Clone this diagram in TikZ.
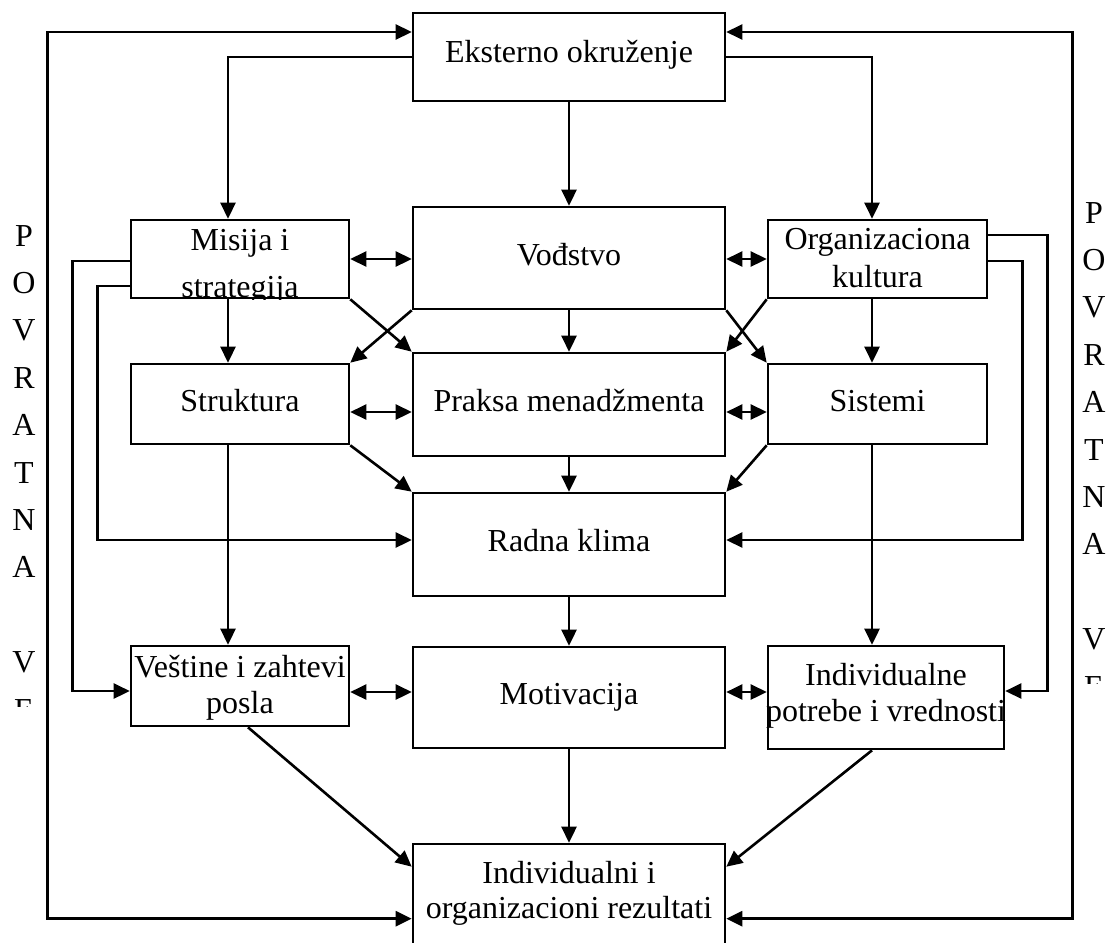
\documentclass[tikz,border=0pt]{standalone}
\usepackage{fontspec}
\setmainfont{Liberation Serif}
\usetikzlibrary{arrows.meta,calc}

\tikzset{
  box/.style={draw, line width=2.6pt, rectangle, inner sep=0pt, fill=white},
  txt/.style={anchor=base, inner sep=0pt, align=center},
  tip/.tip={Triangle[length=16pt,width=15pt]},
  link/.style={line width=2.6pt, -tip},
  duo/.style={line width=2.6pt, tip-tip},
  wire/.style={line width=2.6pt}
}

\begin{document}
\begin{tikzpicture}[x=1pt, y=-1pt, font=\fontsize{32}{38}\selectfont]
\useasboundingbox (0,0) rectangle (1110,942);
\fill[white] (0,0) rectangle (1110,942);
\clip (0,0) rectangle (1110,942);

% boxes
\node[box, minimum width=312pt, minimum height=88pt]  (eks) at (569,57)    {};
\node[box, minimum width=312pt, minimum height=102pt] (vod) at (569,258)   {};
\node[box, minimum width=218pt, minimum height=78pt]  (mis) at (240,259)   {};
\node[box, minimum width=219pt, minimum height=78pt]  (org) at (877.5,259) {};
\node[box, minimum width=218pt, minimum height=80pt]  (str) at (240,404)   {};
\node[box, minimum width=312pt, minimum height=103pt] (pra) at (569,404.5) {};
\node[box, minimum width=219pt, minimum height=80pt]  (sis) at (877.5,404) {};
\node[box, minimum width=312pt, minimum height=103pt] (rad) at (569,544.5) {};
\node[box, minimum width=218pt, minimum height=80pt]  (ves) at (240,686)   {};
\node[box, minimum width=312pt, minimum height=101pt] (mot) at (569,697.5) {};
\node[box, minimum width=236pt, minimum height=103pt] (ind) at (886,697.5) {};
\node[box, minimum width=312pt, minimum height=150pt] (rez) at (569,919)   {};

% box texts
\node[txt] (teks) at (569,63)  {Eksterno okruženje};
\node[txt] (tvod) at (569,265) {Vođstvo};
\begin{scope}
  \clip (mis.north west) rectangle (mis.south east);
  \node[txt] (tmis1) at (240,250) {Misija i};
  \node[txt] (tmis2) at (240,297) {strategija};
\end{scope}
\node[txt] (torg1) at (877.5,249) {Organizaciona};
\node[txt] (torg2) at (877.5,287) {kultura};
\node[txt] (tstr) at (240,411)   {Struktura};
\node[txt] (tpra) at (569,411)   {Praksa menadžmenta};
\node[txt] (tsis) at (877.5,411) {Sistemi};
\node[txt] (trad) at (569,551)   {Radna klima};
\node[txt] (tves1) at (240,677)  {Veštine i zahtevi};
\node[txt] (tves2) at (240,713)  {posla};
\node[txt] (tmot) at (569,704)   {Motivacija};
\node[txt] (tind1) at (886,685)  {Individualne};
\node[txt] (tind2) at (886,721)  {potrebe i vrednosti};
\node[txt] (trez1) at (569,883)  {Individualni i};
\node[txt] (trez2) at (569,918)  {organizacioni rezultati};

% vertical captions, cut off at the lower end
\begin{scope}
  \clip (0,0) rectangle (45,706);
  \foreach \k/\c in {0/P,1/O,2/V,3/R,4/A,5/T,6/N,7/A,9/V,10/E}
    \node[txt] (lcap\k) at (24,{246+47.4*\k}) {\c};
\end{scope}
\begin{scope}
  \clip (1076,0) rectangle (1110,683);
  \foreach \k/\c in {0/P,1/O,2/V,3/R,4/A,5/T,6/N,7/A,9/V,10/E}
    \node[txt] (rcap\k) at (1094,{223+47.4*\k}) {\c};
\end{scope}

% main flow
\draw[link] (eks.south) -- (vod.north);
\draw[link] (eks.west) -| ([xshift=-12pt]mis.north);
\draw[link] (eks.east) -| ([xshift=-5.5pt]org.north);
\draw[link] (vod.south) -- (pra.north);
\draw[link] (pra.south) -- (rad.north);
\draw[link] (rad.south) -- (mot.north);
\draw[link] (mot.south) -- (rez.north);
\draw[link] ([xshift=-12pt]mis.south) -- ([xshift=-12pt]str.north);
\draw[link] ([xshift=-5.5pt]org.south) -- ([xshift=-5.5pt]sis.north);
\draw[link] ([xshift=-12pt]str.south) -- ([xshift=-12pt]ves.north);
\draw[link] ([xshift=-5.5pt]sis.south) -- ([xshift=-14pt]ind.north);

% diagonals
\draw[link] (mis.south east) -- (pra.north west);
\draw[link] (vod.south west) -- (str.north east);
\draw[link] (vod.south east) -- (sis.north west);
\draw[link] (org.south west) -- (pra.north east);
\draw[link] (str.south east) -- (rad.north west);
\draw[link] (sis.south west) -- (rad.north east);
\draw[link] ([xshift=8pt]ves.south) -- ($(rez.north west)+(0,24)$);
\draw[link] ([xshift=-14pt]ind.south) -- ($(rez.north east)+(0,24)$);

% two-way links
\draw[duo] (mis.east) -- (mis.east -| vod.west);
\draw[duo] (org.west) -- (org.west -| vod.east);
\draw[duo] ([yshift=-8pt]str.east) -- ([yshift=-8pt]str.east -| pra.west);
\draw[duo] ([yshift=-8pt]sis.west) -- ([yshift=-8pt]sis.west -| pra.east);
\draw[duo] ([yshift=-6pt]ves.east) -- ([yshift=-6pt]ves.east -| mot.west);
\draw[duo] ([yshift=5.5pt]ind.west) -- ([yshift=5.5pt]ind.west -| mot.east);

% feedback loops
\draw[duo] ([yshift=25pt]eks.west) -- ++(-364,0) |- ($(rez.north west)+(0,76)$);
\draw[duo] ([yshift=25pt]eks.east) -- ++(346,0) |- ($(rez.north east)+(0,76)$);
\draw[link] ([yshift=-2pt]mis.west) -- ++(-57,0) |- ([yshift=-5pt]ves.west);
\draw[link] ([yshift=-27pt]mis.west) -- ++(-32,0) |- ([yshift=4.5pt]rad.west);
\draw[link] ([yshift=24pt]org.east) -- ++(59,0) |- ([yshift=6.5pt]ind.east);
\draw[link] ([yshift=-2pt]org.east) -- ++(34,0) |- ([yshift=4.5pt]rad.east);
\end{tikzpicture}
\end{document}
